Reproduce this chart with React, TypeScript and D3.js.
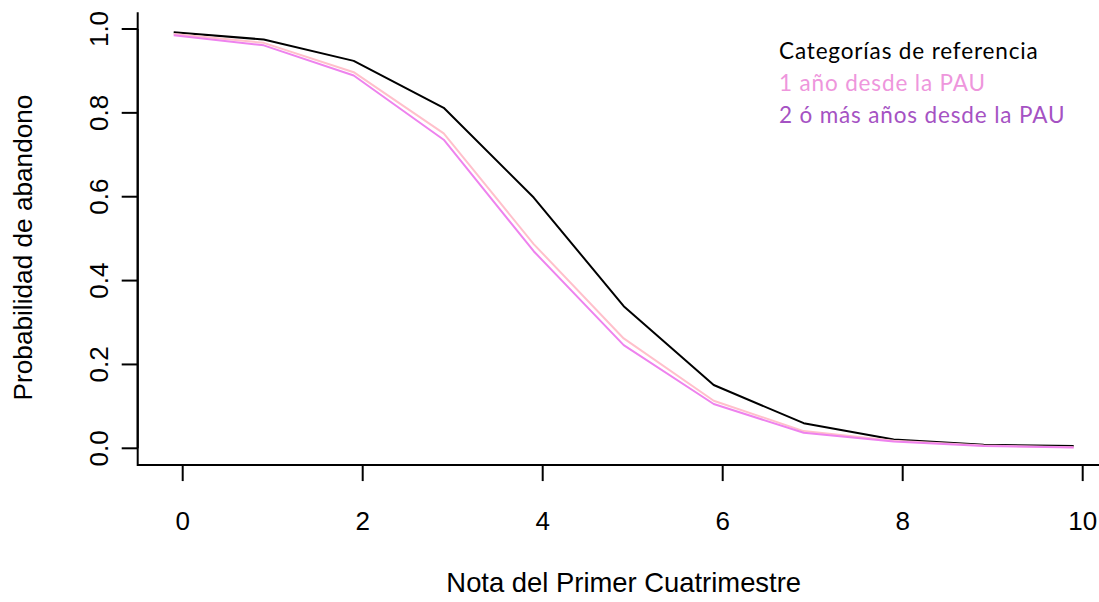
import React from "react";
import * as d3 from "d3";

const notas = [-0.1, 0.9, 1.9, 2.9, 3.9, 4.9, 5.9, 6.9, 7.9, 8.9, 9.9];
const probReferencia = [0.992, 0.975, 0.924, 0.812, 0.598, 0.339, 0.151, 0.06, 0.021, 0.0086, 0.0055];
const probUnAnio = [0.988, 0.967, 0.897, 0.751, 0.487, 0.262, 0.1135, 0.041, 0.018, 0.0065, 0.0025];
const probDosMas = [0.985, 0.961, 0.889, 0.736, 0.47, 0.246, 0.1057, 0.037, 0.0165, 0.0055, 0.002];
const xTicks = [0, 2, 4, 6, 8, 10];
const yTicks = [0, 0.2, 0.4, 0.6, 0.8, 1.0];
const legendLabels = ["Categorías de referencia", "1 año desde la PAU", "2 ó más años desde la PAU"];
const legendColors = ["#000000", "#EE96DC", "#A552C3"];
const lineColors = ["#000000", "#FFC0CB", "#EE82EE"];

export default function App() {
  const W = 1099;
  const H = 602;
  const x = d3.scaleLinear().domain([0, 10]).range([182.7, 1082.7]);
  const y = d3.scaleLinear().domain([0, 1]).range([448.3, 29]);
  const [xmin, xmax] = d3.extent(notas) as [number, number];
  const xpad = (x(xmax) - x(xmin)) * 0.04;
  const left = x(xmin) - xpad;
  const right = x(xmax) + xpad;
  const ypad = (y(0) - y(1)) * 0.04;
  const top = y(1) - ypad;
  const bottom = y(0) + ypad;

  const line = d3
    .line<number>()
    .x((_, i) => x(notas[i]))
    .y((d) => y(d));

  const series = [probReferencia, probUnAnio, probDosMas];
  const fmt = d3.format(".1f");
  const tickLen = 16;
  const font = "'Liberation Sans', Arial, sans-serif";

  return (
    <svg
      width={W}
      height={H}
      style={{ position: "absolute", left: 0, top: 0, background: "#fff" }}
    >
      <rect x={0} y={0} width={W} height={H} fill="#fff" />
      {/* box (bty = "l") */}
      <path
        d={`M${left},${top}V${bottom}H${right}`}
        fill="none"
        stroke="#000"
        strokeWidth={2}
      />
      {/* y axis */}
      <line x1={left} x2={left} y1={y(0)} y2={y(1)} stroke="#000" strokeWidth={2} />
      {yTicks.map((t) => (
        <g key={"y" + t}>
          <line x1={left - tickLen} x2={left} y1={y(t)} y2={y(t)} stroke="#000" strokeWidth={2} />
          <text
            transform={`translate(${left - 30},${y(t)}) rotate(-90)`}
            textAnchor="middle"
            fontFamily={font}
            fontSize={26}
            fill="#000"
          >
            {fmt(t)}
          </text>
        </g>
      ))}
      {/* x axis ticks */}
      {xTicks.map((t) => (
        <g key={"x" + t}>
          <line x1={x(t)} x2={x(t)} y1={bottom} y2={bottom + tickLen} stroke="#000" strokeWidth={2} />
          <text x={x(t)} y={529.5} textAnchor="middle" fontFamily={font} fontSize={26} fill="#000">
            {t}
          </text>
        </g>
      ))}
      {/* series */}
      {series.map((s, i) => (
        <path
          key={"s" + i}
          d={line(s) || ""}
          fill="none"
          stroke={lineColors[i]}
          strokeWidth={2}
          strokeLinejoin="round"
        />
      ))}
      {/* titles */}
      <text x={(left + right) / 2} y={592} textAnchor="middle" fontFamily={font} fontSize={27.4} fill="#000">
        Nota del Primer Cuatrimestre
      </text>
      <text
        transform={`translate(32,247.5) rotate(-90)`}
        textAnchor="middle"
        fontFamily={font}
        fontSize={26.2}
        fill="#000"
      >
        Probabilidad de abandono
      </text>
      {/* legend */}
      {legendLabels.map((l, i) => (
        <text
          key={"l" + i}
          x={779}
          y={59.3 + i * 32}
          fontFamily="Lato, 'Open Sans', sans-serif"
          fontSize={22.5}
          letterSpacing={0.85}
          fill={legendColors[i]}
        >
          {l}
        </text>
      ))}
    </svg>
  );
}
